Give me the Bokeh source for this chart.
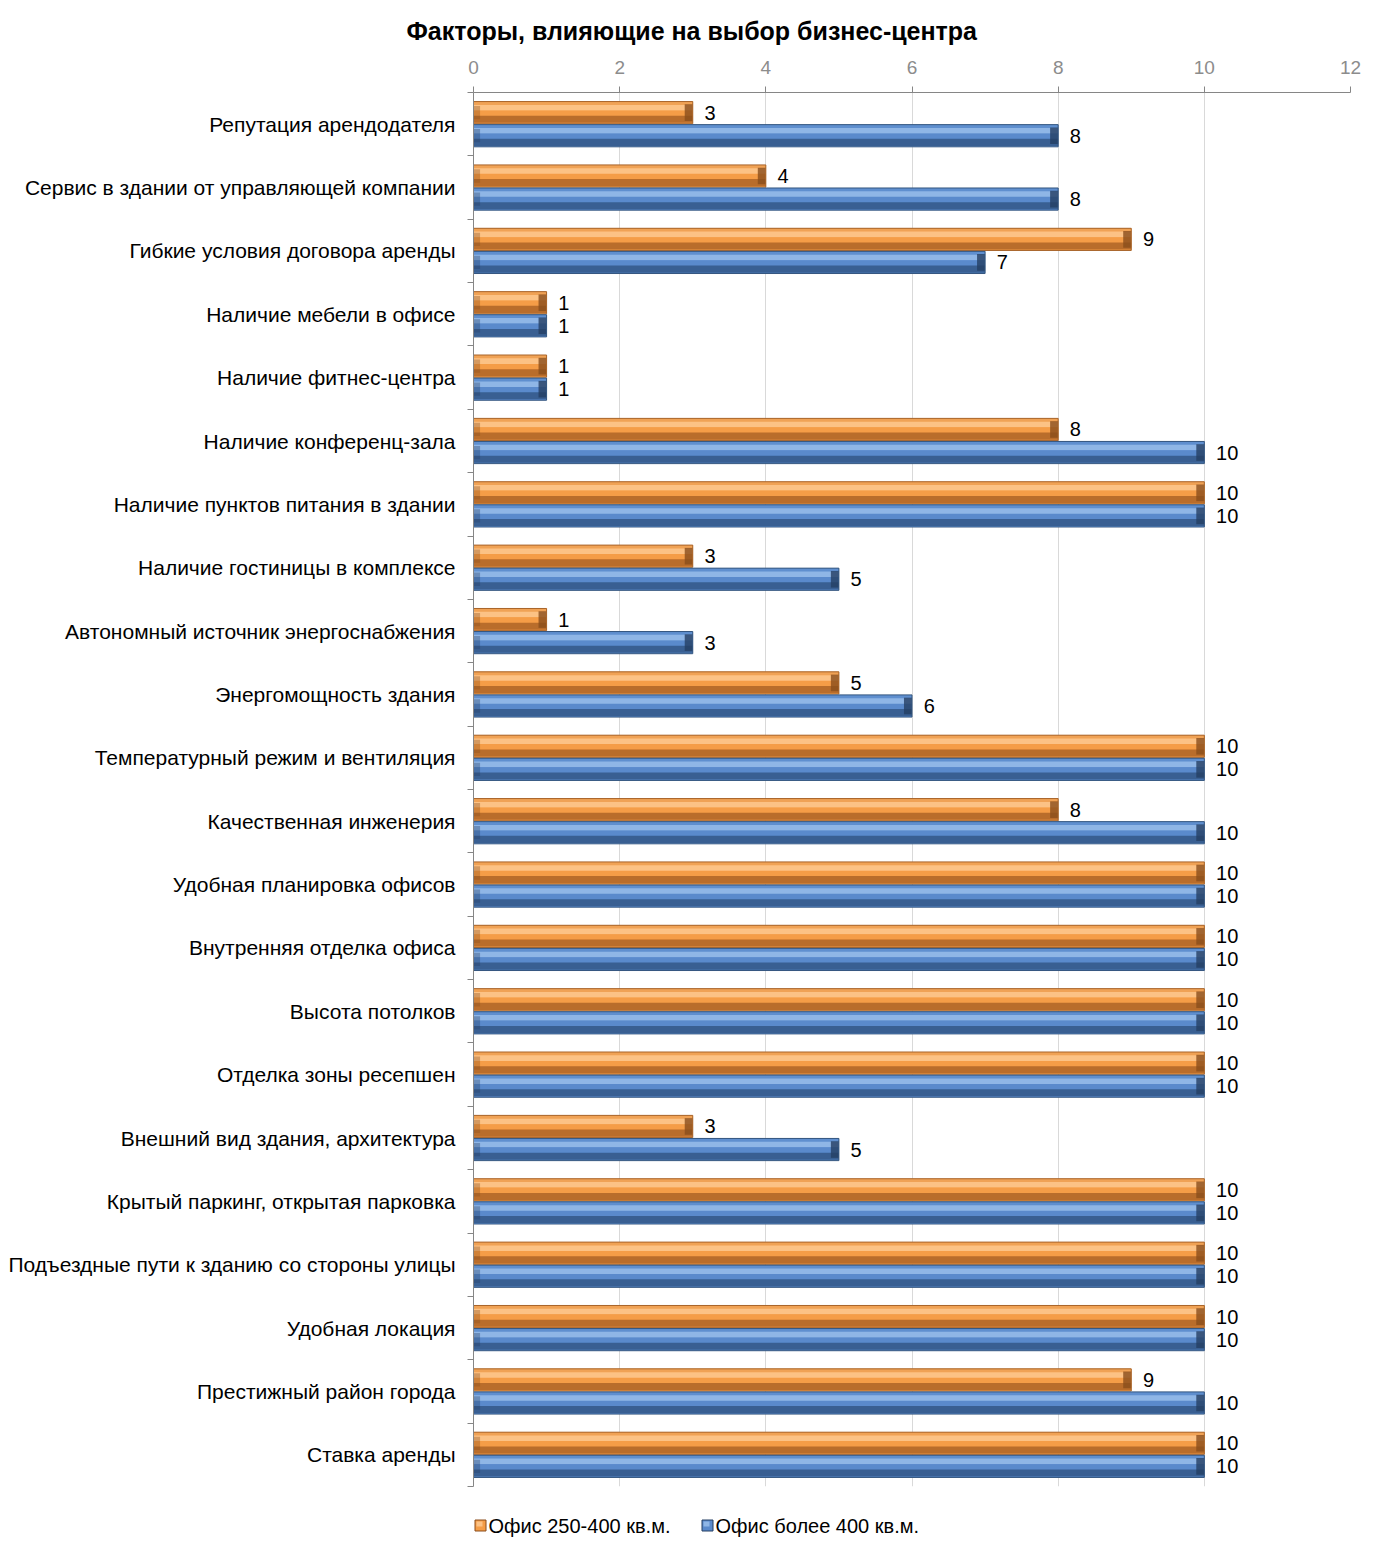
from bokeh.plotting import figure
from bokeh.layouts import column
from bokeh.models import Range1d, FixedTicker, ColumnDataSource, Title
from bokeh.embed import file_html
from bokeh.resources import INLINE

categories = [
    "Репутация арендодателя",
    "Сервис в здании от управляющей компании",
    "Гибкие условия договора аренды",
    "Наличие мебели в офисе",
    "Наличие фитнес-центра",
    "Наличие конференц-зала",
    "Наличие пунктов питания в здании",
    "Наличие гостиницы в комплексе",
    "Автономный источник энергоснабжения",
    "Энергомощность здания",
    "Температурный режим и вентиляция",
    "Качественная инженерия",
    "Удобная планировка офисов",
    "Внутренняя отделка офиса",
    "Высота потолков",
    "Отделка зоны ресепшен",
    "Внешний вид здания, архитектура",
    "Крытый паркинг, открытая парковка",
    "Подъездные пути к зданию со стороны улицы",
    "Удобная локация",
    "Престижный район города",
    "Ставка аренды",
]
office_250_400 = [3, 4, 9, 1, 1, 8, 10, 3, 1, 5, 10, 8, 10, 10, 10, 10, 3, 10, 10, 10, 9, 10]
office_400_plus = [8, 8, 7, 1, 1, 10, 10, 5, 3, 6, 10, 10, 10, 10, 10, 10, 5, 10, 10, 10, 10, 10]
series_names = ["Офис 250-400 кв.м.", "Офис более 400 кв.м."]
x_ticks = [0, 2, 4, 6, 8, 10, 12]

FONT = "Liberation Sans"
n = len(categories)
idx = list(range(n))

FL, FR = 473, 1350
W, H = 1365, 1500
p = figure(width=W, height=H, output_backend="svg", toolbar_location=None,
           x_range=Range1d(0, 12), y_range=Range1d(n - 0.5, -0.5),
           x_axis_location="above",
           min_border_left=FL, min_border_right=W - FR, min_border_top=92,
           min_border_bottom=H - 1486)
p.outline_line_color = None
p.background_fill_color = "white"
p.border_fill_color = "white"

p.title = Title(text="Факторы, влияющие на выбор бизнес-центра", align="left",
                offset=-67, text_font=FONT, text_font_size="25px", text_font_style="bold",
                text_color="black", standoff=26)

# x axis (top)
p.xaxis.ticker = FixedTicker(ticks=x_ticks)
p.xaxis.axis_line_color = "#868686"
p.xaxis.major_tick_line_color = "#868686"
p.xaxis.major_tick_in = 0
p.xaxis.major_tick_out = 6
p.xaxis.minor_tick_line_color = None
p.xaxis.major_label_text_font = FONT
p.xaxis.major_label_text_font_size = "19px"
p.xaxis.major_label_text_color = "#8c8c8c"
p.xaxis.major_label_standoff = 13
p.xgrid.ticker = FixedTicker(ticks=x_ticks)
p.xgrid.grid_line_color = "#d9d9d9"
p.ygrid.grid_line_color = None

# y axis
p.yaxis.ticker = FixedTicker(ticks=idx, minor_ticks=[i - 0.5 for i in range(n + 1)])
p.yaxis.major_label_overrides = {i: c for i, c in enumerate(categories)}
p.yaxis.axis_line_color = "#868686"
p.yaxis.major_tick_line_color = None
p.yaxis.major_tick_out = 0
p.yaxis.major_tick_in = 0
p.yaxis.minor_tick_line_color = "#868686"
p.yaxis.minor_tick_in = 0
p.yaxis.minor_tick_out = 6
p.yaxis.major_label_text_font = FONT
p.yaxis.major_label_text_font_size = "21px"
p.yaxis.major_label_text_color = "black"
p.yaxis.major_label_standoff = 12

off = 0.182
h = 0.35

orange = dict(top="#f0a255", hi="#fcc285", mid="#f59d47", dark="#b96d2b", end="#8a4d1c", line="#a8642a")
blue = dict(top="#5f8fcf", hi="#8fb6e6", mid="#5a8acc", dark="#395f92", end="#243f63", line="#34567f")


def bevel_bar(values, center_off, cols):
    ys = [i + center_off for i in idx]
    src = ColumnDataSource(dict(y=ys, right=values))
    p.hbar(y="y", right="right", left=0, height=h, source=src,
           fill_color=cols["mid"], line_color=None)
    layers = [(-0.42, 0.16, cols["top"]), (-0.22, 0.26, cols["hi"]),
              (0.02, 0.24, cols["mid"]), (0.30, 0.32, cols["dark"])]
    for o, hf, c in layers:
        s2 = ColumnDataSource(dict(y=[yy + o * h for yy in ys], right=values))
        p.hbar(y="y", right="right", left=0, height=hf * h, source=s2,
               fill_color=c, line_color=None)
    s3 = ColumnDataSource(dict(y=ys, right=values, left=[v - 0.11 for v in values]))
    p.hbar(y="y", right="right", left="left", height=h * 0.75, source=s3,
           fill_color=cols["end"], line_color=None, fill_alpha=0.8)
    s4 = ColumnDataSource(dict(y=ys, right=[0.09] * n))
    p.hbar(y="y", right="right", left=0, height=h * 0.6, source=s4,
           fill_color=cols["end"], line_color=None, fill_alpha=0.35)
    p.hbar(y="y", right="right", left=0, height=h, source=src,
           fill_color=None, line_color=cols["line"], line_width=1)
    ls = ColumnDataSource(dict(x=[v + 0.16 for v in values], y=ys, t=[str(v) for v in values]))
    p.text(x="x", y="y", text="t", source=ls, text_font={"value": FONT},
           text_font_size="20px", text_color="black", text_baseline="middle", text_align="left")


bevel_bar(office_250_400, -off, orange)
bevel_bar(office_400_plus, off, blue)

# legend strip (separate small figure below the chart; its frame aligns with the chart's frame)
LH = 44
q = figure(width=W, height=LH, output_backend="svg", toolbar_location=None,
           x_range=Range1d(FL, FR), y_range=Range1d(0, LH),
           min_border=0, x_axis_type=None, y_axis_type=None)
q.outline_line_color = None
q.xgrid.grid_line_color = None
q.ygrid.grid_line_color = None
q.border_fill_color = "white"
leg_x = [480, 707]
leg_y = LH - 25
leg_cols = [orange, blue]
for lx, name, cols in zip(leg_x, series_names, leg_cols):
    q.rect(x=[lx], y=[leg_y], width=11, height=11, fill_color=cols["mid"],
           line_color=cols["end"], line_width=1)
    q.rect(x=[lx - 1], y=[leg_y + 1.5], width=6, height=5, fill_color=cols["hi"],
           line_color=None)
    q.text(x=[lx + 8], y=[leg_y], text=[name], text_font={"value": FONT},
           text_font_size="20px", text_color="black", text_baseline="middle", text_align="left")

open("out.html", "w").write(file_html(column(p, q, spacing=0), INLINE))
